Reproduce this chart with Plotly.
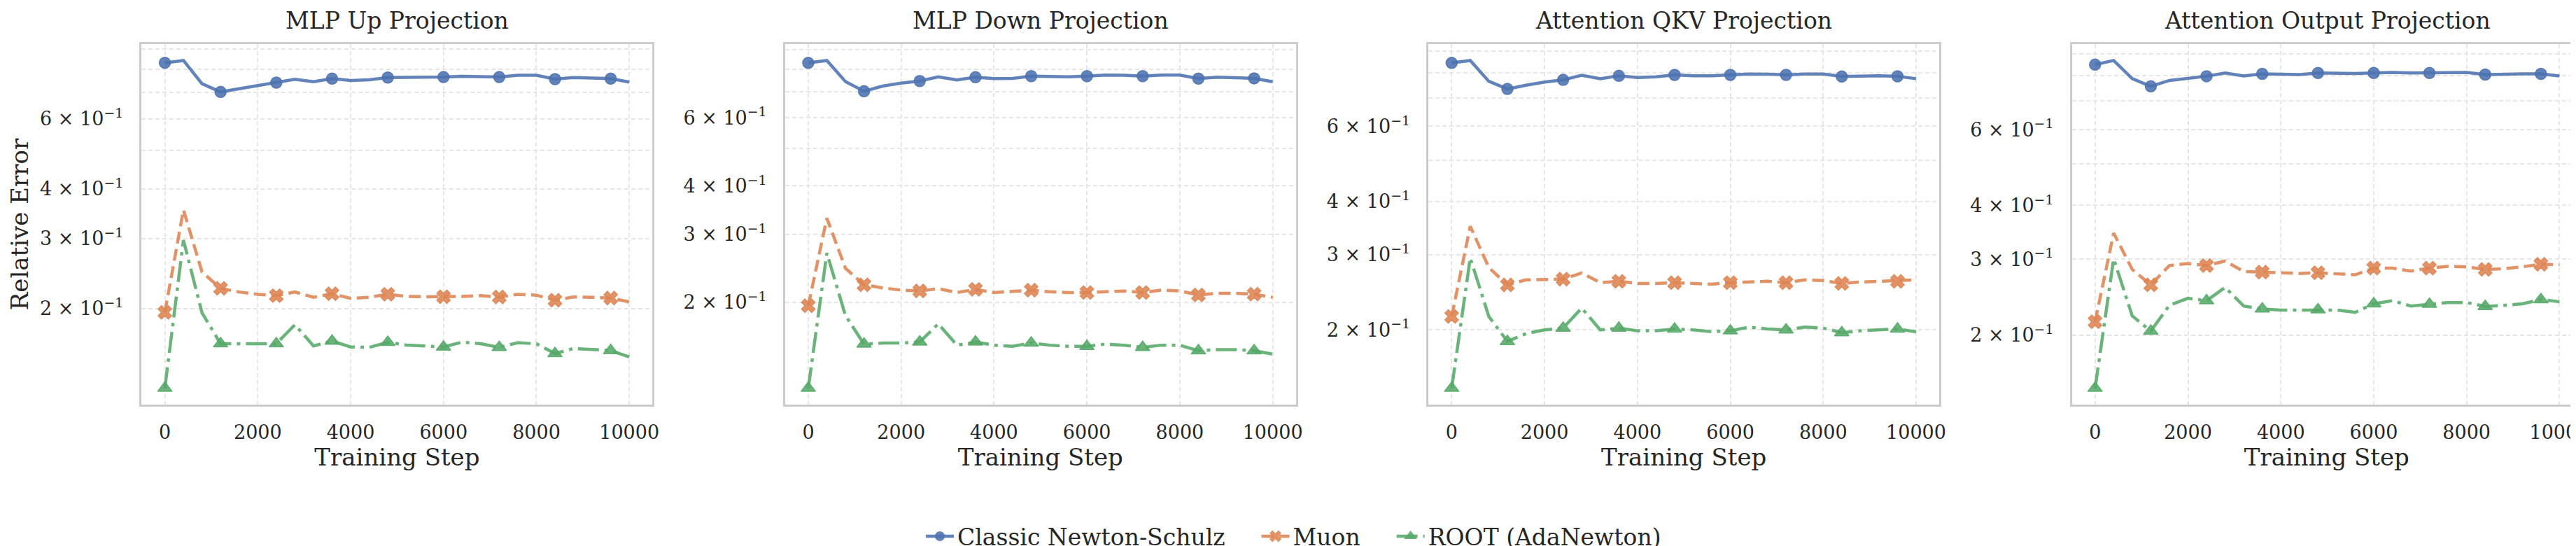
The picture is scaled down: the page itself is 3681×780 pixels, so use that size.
import math
import plotly.graph_objects as go

# ---------------- data ----------------
steps = [0, 400, 800, 1200, 1600, 2000, 2400, 2800, 3200, 3600, 4000, 4400, 4800,
         5200, 5600, 6000, 6400, 6800, 7200, 7600, 8000, 8400, 8800, 9200, 9600, 10000]

panel_titles = ["MLP Up Projection", "MLP Down Projection",
                "Attention QKV Projection", "Attention Output Projection"]

series_names = ["Classic Newton-Schulz", "Muon", "ROOT (AdaNewton)"]

# MLP Up Projection
mlp_up_classic = [0.830, 0.841, 0.735, 0.701, 0.714, 0.727, 0.740, 0.754, 0.744, 0.757, 0.749, 0.752, 0.762,
                  0.762, 0.762, 0.764, 0.767, 0.767, 0.764, 0.772, 0.772, 0.755, 0.762, 0.760, 0.757, 0.742]
mlp_up_muon = [0.1955, 0.354, 0.247, 0.2247, 0.220, 0.217, 0.2154, 0.220, 0.2134, 0.2178, 0.2120, 0.2134, 0.2171,
               0.2145, 0.2140, 0.2140, 0.2145, 0.2154, 0.2137, 0.2171, 0.2160, 0.2098, 0.2137, 0.2134, 0.2124, 0.2077]
mlp_up_root = [0.126, 0.297, 0.195, 0.163, 0.163, 0.1633, 0.163, 0.182, 0.161, 0.1656, 0.160, 0.1596, 0.1644,
               0.1618, 0.161, 0.160, 0.1646, 0.163, 0.1596, 0.164, 0.163, 0.154, 0.1586, 0.158, 0.1568, 0.151]

# MLP Down Projection
mlp_down_classic = [0.831, 0.843, 0.744, 0.702, 0.724, 0.737, 0.746, 0.765, 0.751, 0.763, 0.757, 0.758, 0.768,
                    0.765, 0.765, 0.768, 0.773, 0.772, 0.768, 0.773, 0.773, 0.757, 0.763, 0.761, 0.758, 0.743]
mlp_down_muon = [0.196, 0.330, 0.245, 0.222, 0.218, 0.215, 0.214, 0.217, 0.212, 0.216, 0.212, 0.213, 0.215,
                 0.213, 0.212, 0.212, 0.213, 0.214, 0.212, 0.215, 0.214, 0.209, 0.211, 0.211, 0.210, 0.206]
mlp_down_root = [0.120, 0.268, 0.185, 0.156, 0.157, 0.157, 0.158, 0.176, 0.155, 0.158, 0.155, 0.154, 0.157,
                 0.155, 0.154, 0.154, 0.156, 0.155, 0.153, 0.155, 0.155, 0.150, 0.151, 0.151, 0.150, 0.147]

# Attention QKV Projection
attn_qkv_classic = [0.845, 0.856, 0.765, 0.734, 0.749, 0.762, 0.771, 0.790, 0.776, 0.788, 0.781, 0.784, 0.792,
                    0.788, 0.788, 0.792, 0.796, 0.795, 0.792, 0.796, 0.796, 0.785, 0.788, 0.788, 0.786, 0.776]
attn_qkv_muon = [0.215, 0.350, 0.280, 0.255, 0.262, 0.263, 0.263, 0.272, 0.258, 0.260, 0.257, 0.257, 0.258,
                 0.257, 0.256, 0.258, 0.259, 0.260, 0.258, 0.262, 0.261, 0.257, 0.259, 0.260, 0.260, 0.262]
attn_qkv_root = [0.146, 0.295, 0.215, 0.188, 0.196, 0.200, 0.202, 0.225, 0.200, 0.202, 0.199, 0.199, 0.201,
                 0.200, 0.198, 0.199, 0.203, 0.201, 0.200, 0.203, 0.202, 0.197, 0.199, 0.200, 0.201, 0.198]

# Attention Output Projection
attn_out_classic = [0.849, 0.868, 0.788, 0.756, 0.780, 0.790, 0.798, 0.812, 0.799, 0.808, 0.805, 0.805, 0.812,
                    0.810, 0.810, 0.812, 0.814, 0.812, 0.812, 0.814, 0.814, 0.805, 0.808, 0.808, 0.808, 0.799]
attn_out_muon = [0.2147, 0.345, 0.284, 0.2616, 0.290, 0.293, 0.290, 0.297, 0.281, 0.280, 0.278, 0.278, 0.279,
                 0.278, 0.276, 0.286, 0.286, 0.2816, 0.286, 0.2887, 0.288, 0.284, 0.285, 0.288, 0.292, 0.291]
attn_out_root = [0.1505, 0.3006, 0.2216, 0.2043, 0.2344, 0.2434, 0.2403, 0.258, 0.2336, 0.230, 0.2286, 0.2286, 0.229,
                 0.2286, 0.2258, 0.2364, 0.2403, 0.2336, 0.2358, 0.238, 0.238, 0.233, 0.2344, 0.2364, 0.2418, 0.2389]

x_tick_vals = [0, 2000, 4000, 6000, 8000, 10000]
x_tick_text = ["0", "2000", "4000", "6000", "8000", "10000"]
y_tick_vals = [0.2, 0.3, 0.4, 0.5, 0.6, 0.7, 0.8, 0.9]
y_tick_text = ["2 × 10<sup>−1</sup>", "3 × 10<sup>−1</sup>", "4 × 10<sup>−1</sup>", "",
               "6 × 10<sup>−1</sup>", "", "", ""]

panels = [
    (mlp_up_classic, mlp_up_muon, mlp_up_root),
    (mlp_down_classic, mlp_down_muon, mlp_down_root),
    (attn_qkv_classic, attn_qkv_muon, attn_qkv_root),
    (attn_out_classic, attn_out_muon, attn_out_root),
]

# ---------------- style ----------------
W, H = 3681, 780
FONT = "DejaVu Serif"
TEXT = "#262626"
colors = ["rgba(76,114,176,0.88)", "rgba(221,132,82,0.88)", "rgba(85,168,104,0.88)"]
dashes = ["solid", "17px,8px", "30px,8px,5px,8px"]
symbols = ["circle", "x", "triangle-up"]
msizes = [16, 17, 18]
LW = 4.5

# panel geometry (pixels)
left0, pitch, pw = 194.4, 919.4, 730.0
top_px, bot_px = 55, 570
ydom = [1 - bot_px / H, 1 - top_px / H]

fig = go.Figure()

for p, series in enumerate(panels):
    xa = "x" if p == 0 else f"x{p+1}"
    ya = "y" if p == 0 else f"y{p+1}"
    for s, vals in enumerate(series):
        fig.add_trace(go.Scatter(
            x=steps, y=vals, xaxis=xa, yaxis=ya, mode="lines",
            line=dict(color=colors[s], width=LW, dash=dashes[s]),
            showlegend=False, hoverinfo="skip"))
        fig.add_trace(go.Scatter(
            x=steps[::3], y=vals[::3], xaxis=xa, yaxis=ya, mode="markers",
            marker=dict(color=colors[s], size=msizes[s], symbol=symbols[s],
                        line=dict(color=colors[s], width=1.5)),
            showlegend=False, hoverinfo="skip"))

NBSP = "\u00a0"
for s, name in enumerate(series_names):
    fig.add_trace(go.Scatter(
        x=[None], y=[None], mode="lines+markers",
        name=name + (NBSP * 4 if s < 2 else ""),
        line=dict(color=colors[s], width=LW, dash=dashes[s]),
        marker=dict(color=colors[s], size=msizes[s] - 2, symbol=symbols[s])))

axis_common = dict(
    showline=True, linecolor="#cccccc", linewidth=2.5,
    showgrid=True, gridcolor="#e6e6e6", gridwidth=1.6, griddash="6px,4px",
    zeroline=False, ticks="outside", tickcolor="rgba(0,0,0,0)",
    tickfont=dict(family=FONT, size=27, color=TEXT),
)

layout = dict(
    width=W, height=H,
    margin=dict(l=0, r=0, t=0, b=0, autoexpand=False),
    paper_bgcolor="white", plot_bgcolor="white",
    font=dict(family=FONT, color=TEXT),
    showlegend=True,
    legend=dict(orientation="h", x=0.5, xanchor="center", y=1 - 758 / H, yanchor="middle",
                font=dict(family=FONT, size=33, color=TEXT), itemwidth=40,
                bgcolor="rgba(0,0,0,0)"),
    annotations=[],
)

for p, series in enumerate(panels):
    allv = [v for ser in series for v in ser]
    lo, hi = math.log10(min(allv)), math.log10(max(allv))
    pad = 0.05 * (hi - lo)
    left = left0 + p * pitch
    right = min(left + pw, W)
    xr_end = -500 + 11000 * (right - left) / pw
    xkey = "xaxis" if p == 0 else f"xaxis{p+1}"
    ykey = "yaxis" if p == 0 else f"yaxis{p+1}"
    xid = "x" if p == 0 else f"x{p+1}"
    yid = "y" if p == 0 else f"y{p+1}"
    layout[xkey] = dict(
        axis_common, domain=[left / W, right / W], anchor=yid,
        range=[-500, xr_end], tickvals=x_tick_vals, ticktext=x_tick_text, ticklen=14,
        mirror=True, ticklabeloverflow="allow",
        title=dict(text="Training Step", font=dict(family=FONT, size=34, color=TEXT), standoff=6),
    )
    layout[ykey] = dict(
        axis_common, domain=ydom, anchor=xid, type="log",
        range=[lo - pad, hi + pad], tickvals=y_tick_vals, ticktext=y_tick_text,
        ticklen=18, mirror=(p != 3),
    )
    if p == 0:
        layout[ykey]["title"] = dict(text="Relative Error", font=dict(family=FONT, size=34, color=TEXT),
                                     standoff=12)
    layout["annotations"].append(dict(
        text=panel_titles[p], xref="paper", yref="paper",
        x=(left + pw / 2) / W, y=1.0, xanchor="center", yanchor="top",
        showarrow=False, font=dict(family=FONT, size=33, color=TEXT)))

fig.update_layout(layout)
fig.write_html("out.html")
